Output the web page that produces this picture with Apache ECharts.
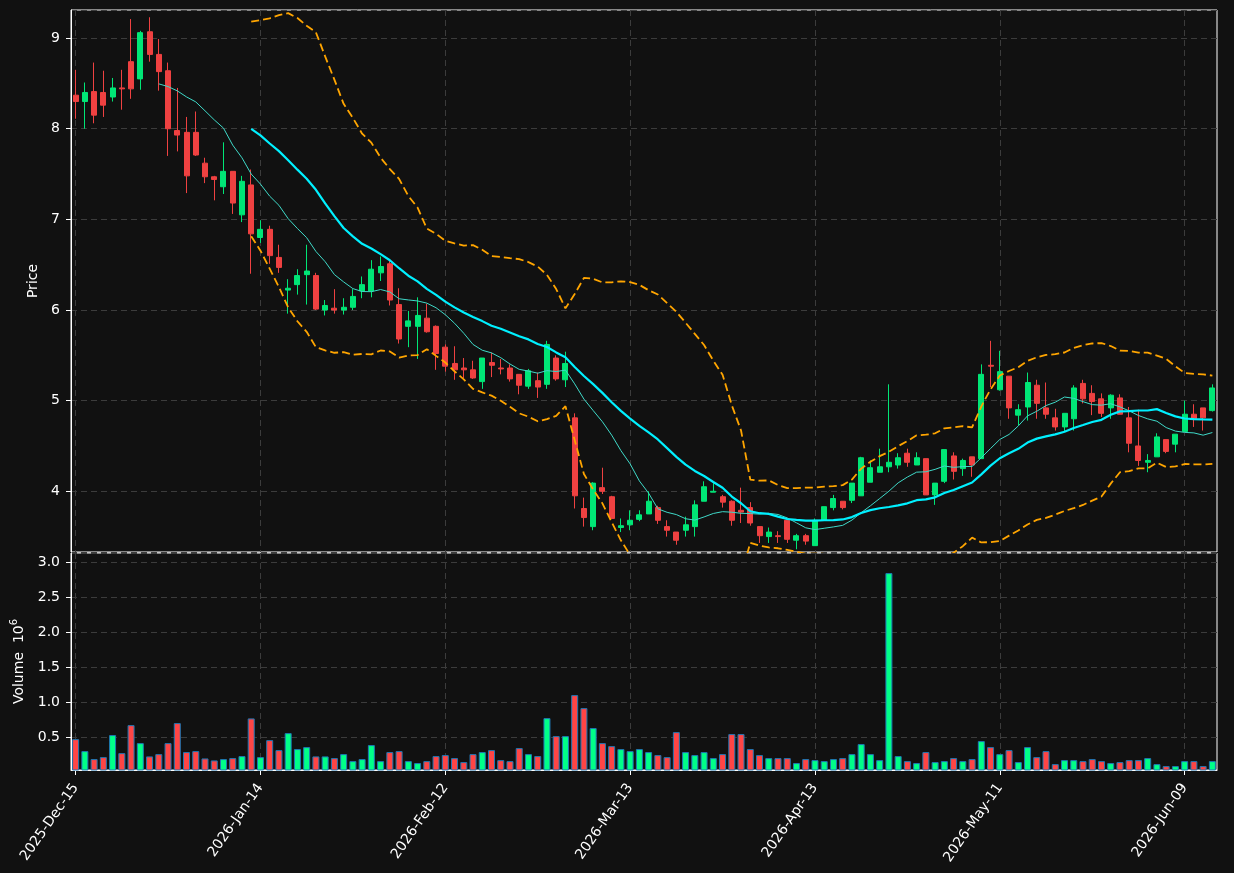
<!DOCTYPE html>
<html>
<head>
<meta charset="utf-8">
<title>Price and volume</title>
<script src="https://cdn.jsdelivr.net/npm/echarts@6/dist/echarts.min.js"></script>
<style>
  html, body { margin: 0; padding: 0; background: #111111; }
  #chart { width: 1234px; height: 873px; }
</style>
</head>
<body>
<div id="chart"></div>
<script>
// trading days shown on the x axis
var dates = [
  '2025-Dec-15', '2025-Dec-16', '2025-Dec-17', '2025-Dec-18', '2025-Dec-19', '2025-Dec-22', '2025-Dec-23', '2025-Dec-24',
  '2025-Dec-26', '2025-Dec-29', '2025-Dec-30', '2025-Dec-31',
  '2026-Jan-02', '2026-Jan-05', '2026-Jan-06', '2026-Jan-07', '2026-Jan-08', '2026-Jan-09', '2026-Jan-12', '2026-Jan-13',
  '2026-Jan-14', '2026-Jan-15', '2026-Jan-16', '2026-Jan-20', '2026-Jan-21', '2026-Jan-22', '2026-Jan-23', '2026-Jan-26',
  '2026-Jan-27', '2026-Jan-28', '2026-Jan-29', '2026-Jan-30',
  '2026-Feb-02', '2026-Feb-03', '2026-Feb-04', '2026-Feb-05', '2026-Feb-06', '2026-Feb-09', '2026-Feb-10', '2026-Feb-11',
  '2026-Feb-12', '2026-Feb-13', '2026-Feb-17', '2026-Feb-18', '2026-Feb-19', '2026-Feb-20', '2026-Feb-23', '2026-Feb-24',
  '2026-Feb-25', '2026-Feb-26', '2026-Feb-27',
  '2026-Mar-02', '2026-Mar-03', '2026-Mar-04', '2026-Mar-05', '2026-Mar-06', '2026-Mar-09', '2026-Mar-10', '2026-Mar-11',
  '2026-Mar-12', '2026-Mar-13', '2026-Mar-16', '2026-Mar-17', '2026-Mar-18', '2026-Mar-19', '2026-Mar-20', '2026-Mar-23',
  '2026-Mar-24', '2026-Mar-25', '2026-Mar-26', '2026-Mar-27', '2026-Mar-30', '2026-Mar-31',
  '2026-Apr-01', '2026-Apr-02', '2026-Apr-06', '2026-Apr-07', '2026-Apr-08', '2026-Apr-09', '2026-Apr-10', '2026-Apr-13',
  '2026-Apr-14', '2026-Apr-15', '2026-Apr-16', '2026-Apr-17', '2026-Apr-20', '2026-Apr-21', '2026-Apr-22', '2026-Apr-23',
  '2026-Apr-24', '2026-Apr-27', '2026-Apr-28', '2026-Apr-29', '2026-Apr-30',
  '2026-May-01', '2026-May-04', '2026-May-05', '2026-May-06', '2026-May-07', '2026-May-08', '2026-May-11', '2026-May-12',
  '2026-May-13', '2026-May-14', '2026-May-15', '2026-May-18', '2026-May-19', '2026-May-20', '2026-May-21', '2026-May-22',
  '2026-May-26', '2026-May-27', '2026-May-28', '2026-May-29',
  '2026-Jun-01', '2026-Jun-02', '2026-Jun-03', '2026-Jun-04', '2026-Jun-05', '2026-Jun-08', '2026-Jun-09', '2026-Jun-10',
  '2026-Jun-11', '2026-Jun-12'
]

var opens = [
  8.37, 8.30, 8.41, 8.40, 8.35, 8.45, 8.74, 8.55, 9.07, 8.82,
  8.64, 7.98, 7.96, 7.96, 7.62, 7.47, 7.36, 7.53, 7.05, 7.38,
  6.80, 6.89, 6.58, 6.22, 6.28, 6.39, 6.38, 6.00, 6.02, 6.00,
  6.03, 6.21, 6.21, 6.41, 6.51, 6.06, 5.82, 5.82, 5.91, 5.82,
  5.59, 5.41, 5.36, 5.34, 5.21, 5.42, 5.36, 5.36, 5.29, 5.16,
  5.22, 5.18, 5.47, 5.23, 4.81, 3.81, 3.61, 4.04, 3.94, 3.60,
  3.63, 3.69, 3.75, 3.82, 3.61, 3.55, 3.57, 3.61, 3.89, 3.99,
  3.94, 3.89, 3.79, 3.82, 3.61, 3.50, 3.51, 3.68, 3.46, 3.51,
  3.40, 3.68, 3.82, 3.89, 3.90, 3.95, 4.10, 4.21, 4.27, 4.29,
  4.42, 4.29, 4.36, 3.96, 4.11, 4.39, 4.25, 4.38, 4.36, 5.39,
  5.12, 5.27, 4.84, 4.93, 5.17, 4.92, 4.81, 4.71, 4.80, 5.19,
  5.08, 5.02, 4.92, 5.03, 4.81, 4.50, 4.32, 4.38, 4.57, 4.52,
  4.66, 4.85, 4.92, 4.89
]

var highs = [
  8.65, 8.51, 8.73, 8.64, 8.56, 8.65, 9.21, 9.08, 9.23, 8.99,
  8.73, 8.45, 8.13, 8.19, 7.68, 7.48, 7.85, 7.53, 7.48, 7.55,
  6.99, 6.93, 6.72, 6.34, 6.45, 6.72, 6.41, 6.11, 6.23, 6.13,
  6.23, 6.37, 6.55, 6.59, 6.55, 6.24, 5.99, 6.14, 6.07, 5.83,
  5.62, 5.60, 5.47, 5.44, 5.47, 5.53, 5.46, 5.40, 5.29, 5.35,
  5.31, 5.66, 5.50, 5.54, 4.86, 3.93, 4.10, 4.26, 3.95, 3.70,
  3.79, 3.79, 4.00, 3.84, 3.68, 3.55, 3.72, 3.90, 4.11, 4.09,
  3.96, 3.90, 4.04, 3.88, 3.61, 3.60, 3.56, 3.68, 3.53, 3.53,
  3.70, 3.83, 3.96, 3.89, 4.09, 4.38, 4.34, 4.47, 5.18, 4.42,
  4.47, 4.43, 4.36, 4.09, 4.46, 4.43, 4.36, 4.38, 5.40, 5.66,
  5.55, 5.27, 4.96, 5.31, 5.23, 5.20, 4.91, 4.86, 5.17, 5.23,
  5.17, 5.08, 5.07, 5.07, 4.93, 4.90, 4.41, 4.64, 4.57, 4.63,
  5.00, 4.96, 4.92, 5.18
]

var lows = [
  8.11, 8.00, 8.06, 8.13, 8.30, 8.21, 8.33, 8.43, 8.74, 8.42,
  7.70, 7.75, 7.29, 7.70, 7.40, 7.21, 7.28, 7.06, 6.97, 6.40,
  6.74, 6.51, 6.41, 5.96, 6.17, 6.06, 6.00, 5.94, 5.96, 5.95,
  6.00, 6.13, 6.14, 6.32, 6.05, 5.63, 5.59, 5.46, 5.75, 5.34,
  5.32, 5.23, 5.25, 5.24, 5.13, 5.26, 5.29, 5.21, 5.07, 5.13,
  5.03, 5.13, 5.22, 5.15, 3.81, 3.61, 3.57, 3.97, 3.70, 3.55,
  3.57, 3.67, 3.75, 3.64, 3.50, 3.41, 3.50, 3.50, 3.89, 3.99,
  3.82, 3.62, 3.65, 3.62, 3.43, 3.43, 3.43, 3.43, 3.36, 3.41,
  3.40, 3.68, 3.79, 3.80, 3.87, 3.95, 4.10, 4.21, 4.21, 4.25,
  4.27, 4.29, 3.96, 3.85, 4.09, 4.13, 4.17, 4.16, 4.36, 5.15,
  5.11, 4.80, 4.73, 4.78, 4.80, 4.80, 4.67, 4.66, 4.67, 4.97,
  4.84, 4.82, 4.80, 4.85, 4.43, 4.28, 4.21, 4.38, 4.42, 4.43,
  4.66, 4.71, 4.67, 4.88
]

var closes = [
  8.30, 8.40, 8.15, 8.26, 8.45, 8.44, 8.44, 9.06, 8.82, 8.63,
  8.00, 7.93, 7.48, 7.71, 7.47, 7.44, 7.53, 7.18, 7.42, 6.84,
  6.89, 6.60, 6.47, 6.24, 6.38, 6.43, 6.01, 6.05, 6.00, 6.03,
  6.15, 6.28, 6.45, 6.48, 6.11, 5.68, 5.88, 5.94, 5.76, 5.52,
  5.38, 5.34, 5.34, 5.25, 5.47, 5.39, 5.35, 5.24, 5.17, 5.33,
  5.15, 5.62, 5.24, 5.41, 3.95, 3.71, 4.09, 4.00, 3.70, 3.62,
  3.68, 3.74, 3.89, 3.68, 3.57, 3.46, 3.63, 3.85, 4.05, 4.00,
  3.88, 3.68, 3.77, 3.65, 3.51, 3.55, 3.50, 3.47, 3.51, 3.45,
  3.68, 3.83, 3.92, 3.82, 4.09, 4.37, 4.26, 4.27, 4.32, 4.37,
  4.32, 4.37, 3.96, 4.09, 4.46, 4.22, 4.34, 4.29, 5.29, 5.38,
  5.32, 4.92, 4.90, 5.20, 4.97, 4.85, 4.71, 4.86, 5.14, 5.02,
  4.99, 4.86, 5.06, 4.85, 4.53, 4.34, 4.34, 4.60, 4.44, 4.63,
  4.85, 4.80, 4.81, 5.14
]

// volume in millions (axis shows 10^6)
var volumes = [
  0.471, 0.300, 0.186, 0.214, 0.529, 0.271, 0.671, 0.414, 0.224, 0.257,
  0.414, 0.700, 0.286, 0.300, 0.195, 0.167, 0.186, 0.200, 0.229, 0.767,
  0.214, 0.457, 0.314, 0.557, 0.329, 0.357, 0.224, 0.224, 0.200, 0.257,
  0.157, 0.186, 0.386, 0.157, 0.286, 0.300, 0.157, 0.129, 0.157, 0.229,
  0.243, 0.200, 0.143, 0.257, 0.286, 0.314, 0.171, 0.157, 0.343, 0.257,
  0.229, 0.771, 0.514, 0.514, 1.100, 0.914, 0.629, 0.414, 0.371, 0.329,
  0.300, 0.329, 0.286, 0.243, 0.214, 0.571, 0.286, 0.243, 0.286, 0.200,
  0.257, 0.543, 0.543, 0.329, 0.243, 0.200, 0.200, 0.200, 0.129, 0.186,
  0.171, 0.157, 0.186, 0.200, 0.257, 0.400, 0.257, 0.171, 2.843, 0.229,
  0.157, 0.129, 0.286, 0.143, 0.157, 0.200, 0.157, 0.186, 0.443, 0.357,
  0.257, 0.314, 0.143, 0.357, 0.214, 0.300, 0.114, 0.171, 0.171, 0.157,
  0.186, 0.157, 0.129, 0.143, 0.171, 0.171, 0.200, 0.114, 0.086, 0.086,
  0.157, 0.157, 0.086, 0.157
]

var upColor = '#00e676'
var downColor = '#ef4141'
var volUpColor = '#00ff88'
var volDownColor = '#ff4545'
var textColor = '#ffffff'

// rolling mean over n closes, '-' until the window is full
function movingAverage(values, n) {
  return values.map(function(v, i) {
    if (i < n - 1) return '-'
    var sum = 0
    for (var k = i - n + 1; k <= i; k++) sum += values[k]
    return +(sum / n).toFixed(4)
  })
}

// bollinger band: mean +/- 2 * sample std over n closes
function band(values, n, sign) {
  return values.map(function(v, i) {
    if (i < n - 1) return '-'
    var sum = 0
    for (var k = i - n + 1; k <= i; k++) sum += values[k]
    var mean = sum / n
    var sq = 0
    for (k = i - n + 1; k <= i; k++) sq += (values[k] - mean) * (values[k] - mean)
    return +(mean + sign * 2 * Math.sqrt(sq / (n - 1))).toFixed(4)
  })
}

var candles = dates.map(function(d, i) {
  return [opens[i], closes[i], lows[i], highs[i]]
})
var volumeBars = volumes.map(function(v, i) {
  return {
    value: v,
    itemStyle: { color: closes[i] >= opens[i] ? volUpColor : volDownColor }
  }
})

var gridLine = {
  show: true,
  lineStyle: { color: '#3c3c3c', type: [6, 4], width: 1 }
}
var xSplit = {
  show: true,
  interval: 19,
  alignWithLabel: true,
  lineStyle: { color: '#3c3c3c', type: [6, 4], width: 1 }
}

var chart = echarts.init(document.getElementById('chart'))
chart.setOption({
  backgroundColor: '#111111',
  animation: false,
  textStyle: { fontFamily: 'DejaVu Sans' },
  grid: [
    { left: 71, width: 1146, top: 10, height: 542, show: true, borderColor: '#ffffff', borderWidth: 1 },
    { left: 71, width: 1146, top: 553, height: 217, show: true, borderColor: '#ffffff', borderWidth: 1 }
  ],
  xAxis: [{
    type: 'category',
    gridIndex: 0,
    data: dates,
    axisLine: { show: false },
    axisTick: { show: false },
    axisLabel: { show: false },
    splitLine: xSplit
  }, {
    type: 'category',
    gridIndex: 1,
    data: dates,
    axisLine: { show: true, lineStyle: { color: '#ffffff' } },
    axisTick: { show: true, interval: 19, alignWithLabel: true, length: 5, lineStyle: { color: '#ffffff' } },
    axisLabel: { interval: 19, rotate: 55, color: textColor, fontSize: 14, margin: 15 },
    splitLine: xSplit
  }],
  yAxis: [{
    type: 'value',
    gridIndex: 0,
    min: 3.33,
    max: 9.31,
    minInterval: 1,
    maxInterval: 1,
    name: 'Price',
    nameLocation: 'middle',
    nameGap: 24,
    nameRotate: 90,
    nameTextStyle: { color: textColor, fontSize: 14 },
    axisLine: { show: true, lineStyle: { color: '#ffffff' } },
    axisTick: { show: true, length: 5, lineStyle: { color: '#ffffff' } },
    axisLabel: { color: textColor, fontSize: 14, margin: 11, showMinLabel: false, showMaxLabel: false },
    splitLine: gridLine
  }, {
    type: 'value',
    gridIndex: 1,
    min: 0.03,
    max: 3.13,
    minInterval: 0.5,
    maxInterval: 0.5,
    name: '{a|Volume  10}{b|6}',
    nameLocation: 'middle',
    nameGap: 41,
    nameRotate: 90,
    nameTextStyle: {
      rich: {
        a: { color: textColor, fontSize: 14, lineHeight: 20 },
        b: { color: textColor, fontSize: 10, verticalAlign: 'top', lineHeight: 20 }
      }
    },
    axisLine: { show: true, lineStyle: { color: '#ffffff' } },
    axisTick: { show: true, length: 5, lineStyle: { color: '#ffffff' } },
    axisLabel: {
      color: textColor,
      fontSize: 14,
      margin: 11,
      showMinLabel: false,
      showMaxLabel: false,
      formatter: function(v) { return v.toFixed(1) }
    },
    splitLine: gridLine
  }],
  series: [{
    name: 'OHLC',
    type: 'candlestick',
    xAxisIndex: 0,
    yAxisIndex: 0,
    barWidth: 5.5,
    data: candles,
    itemStyle: {
      color: upColor,
      color0: downColor,
      borderColor: upColor,
      borderColor0: downColor,
      borderWidth: 1
    },
    z: 3
  }, {
    name: 'MA10',
    type: 'line',
    xAxisIndex: 0,
    yAxisIndex: 0,
    data: movingAverage(closes, 10),
    showSymbol: false,
    lineStyle: { color: '#3fd9c8', width: 1 },
    z: 4
  }, {
    name: 'MA20',
    type: 'line',
    xAxisIndex: 0,
    yAxisIndex: 0,
    data: movingAverage(closes, 20),
    showSymbol: false,
    lineStyle: { color: '#00f0ff', width: 2.2 },
    z: 4
  }, {
    name: 'Upper',
    type: 'line',
    xAxisIndex: 0,
    yAxisIndex: 0,
    data: band(closes, 20, 1),
    showSymbol: false,
    lineStyle: { color: '#ffa500', width: 1.8, type: [8, 4] },
    z: 4
  }, {
    name: 'Lower',
    type: 'line',
    xAxisIndex: 0,
    yAxisIndex: 0,
    data: band(closes, 20, -1),
    showSymbol: false,
    lineStyle: { color: '#ffa500', width: 1.8, type: [8, 4] },
    z: 4
  }, {
    name: 'Volume',
    type: 'bar',
    xAxisIndex: 1,
    yAxisIndex: 1,
    barWidth: 7,
    data: volumeBars,
    itemStyle: { borderColor: '#1f77b4', borderWidth: 1 }
  }]
})
</script>
</body>
</html>
